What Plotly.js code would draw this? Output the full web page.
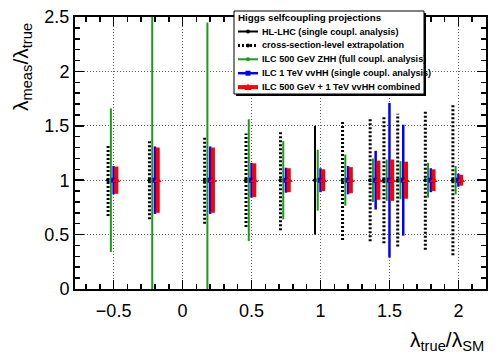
<!DOCTYPE html>
<html>
<head>
<meta charset="utf-8">
<script src="https://cdn.plot.ly/plotly-3.0.1.min.js"></script>
<style>
  html, body { margin: 0; padding: 0; background: #fff; }
  #chart { width: 498px; height: 362px; }
</style>
</head>
<body>
<div id="chart"></div>
<script>
// lambda_true / lambda_SM points
const lambdaTrue = [-0.5, -0.2, 0.2, 0.5, 0.75, 1.0, 1.2, 1.4, 1.5, 1.6, 1.8, 2.0];
// measured / true ratio (all centred at 1)
const measRatio = [1, 1, 1, 1, 1, 1, 1, 1, 1, 1, 1, 1];

// symmetric uncertainties per projection (null = not shown)
const hlLhcErr = [null, null, null, null, null, 0.5, null, null, null, null, null, null];
const xsecErr  = [0.33, 0.36, 0.40, 0.43, 0.46, null, 0.55, 0.56, 0.58, 0.61, 0.64, 0.69];
const zhhErr   = [0.66, 1.70, 1.45, 0.56, 0.36, 0.28, 0.235, 0.20, 0.19, 0.175, 0.16, 0.13];
const vvhhErr  = [0.13, 0.31, 0.31, 0.16, 0.115, 0.11, 0.13, 0.27, 0.71, 0.51, 0.11, 0.06];
const combErr  = [0.125, 0.30, 0.30, 0.155, 0.11, 0.10, 0.12, 0.18, 0.19, 0.17, 0.10, 0.05];

const legendTitle = 'Higgs selfcoupling projections';
const seriesNames = [
  'HL-LHC (single coupl. analysis)',
  'cross-section-level extrapolation',
  'ILC 500 GeV ZHH (full coupl. analysis)',
  'ILC 1 TeV vvHH (single coupl. analysis)',
  'ILC 500 GeV + 1 TeV vvHH combined'
];

const FONT = 'Liberation Sans, Arial, Helvetica, sans-serif';

// plot area in pixels (used for the hand drawn ROOT-style legend)
const M = { l: 75, r: 12, t: 17, b: 73 };
const W = 498, H = 362;
const pw = W - M.l - M.r, ph = H - M.t - M.b;
const px = p => (p - M.l) / pw;
const py = p => (H - M.b - p) / ph;

const styles = [
  { errs: hlLhcErr, off: -0.04, line: { color: '#000', width: 2 }, marker: { color: '#000', size: 4, symbol: 'circle' } },
  { errs: xsecErr, off: -0.04, line: { color: '#000', width: 3, dash: '2px,2px' }, marker: { color: '#000', size: 4, symbol: 'circle' } },
  { errs: zhhErr, off: -0.02, line: { color: '#1a9c1a', width: 2 }, marker: { color: '#1a9c1a', size: 4, symbol: 'circle' } },
  { errs: vvhhErr, off: 0, line: { color: '#0000ff', width: 2.5 }, marker: { color: '#0000ff', size: 5, symbol: 'square' } },
  { errs: combErr, off: 0.02, line: { color: '#ff0000', width: 4 }, marker: { color: '#ff0000', size: 7, symbol: 'triangle-up' } }
];

// Build vertical error bar segments for one series
function barTrace(s) {
  const x = [], y = [];
  lambdaTrue.forEach((l, i) => {
    if (s.errs[i] == null) return;
    x.push(l + s.off, l + s.off, null);
    y.push(measRatio[i] - s.errs[i], measRatio[i] + s.errs[i], null);
  });
  return { x, y, mode: 'lines', line: s.line, showlegend: false, hoverinfo: 'skip' };
}

// Central markers
function markerTrace(s) {
  const x = [], y = [];
  lambdaTrue.forEach((l, i) => {
    if (s.errs[i] == null) return;
    x.push(l + s.off);
    y.push(measRatio[i]);
  });
  return { x, y, mode: 'markers', marker: s.marker, showlegend: false, hoverinfo: 'skip' };
}

const data = [];
styles.forEach(s => data.push(barTrace(s)));
styles.forEach(s => data.push(markerTrace(s)));

// Legend box (with ROOT shadow), symbols and texts
const box = { x0: 234, x1: 424, y0: 11, y1: 94 };
const shapes = [
  { type: 'rect', xref: 'paper', yref: 'paper', layer: 'above',
    x0: px(box.x0 + 2), x1: px(box.x1 + 2), y0: py(box.y0 + 2), y1: py(box.y1 + 2),
    fillcolor: '#000', line: { width: 0 } },
  { type: 'rect', xref: 'paper', yref: 'paper', layer: 'above',
    x0: px(box.x0), x1: px(box.x1), y0: py(box.y0), y1: py(box.y1),
    fillcolor: '#fff', line: { color: '#000', width: 1 } }
];
const annotations = [
  { text: '<b>' + legendTitle + '</b>', xref: 'paper', yref: 'paper',
    x: px(236), y: py(17.5), xanchor: 'left', yanchor: 'middle', showarrow: false,
    font: { family: FONT, size: 9.8, color: '#000' } }
];
styles.forEach((s, k) => {
  const yc = 31.5 + 13.9 * k;
  const ln = Object.assign({}, s.line);
  shapes.push({ type: 'line', xref: 'paper', yref: 'paper', layer: 'above',
    x0: px(238), x1: px(258), y0: py(yc), y1: py(yc), line: ln });
  const r = s.marker.size / 2;
  const xc = 248;
  if (s.marker.symbol === 'square') {
    shapes.push({ type: 'rect', xref: 'paper', yref: 'paper', layer: 'above',
      x0: px(xc - r), x1: px(xc + r), y0: py(yc - r), y1: py(yc + r),
      fillcolor: s.marker.color, line: { width: 0 } });
  } else if (s.marker.symbol === 'triangle-up') {
    shapes.push({ type: 'path', xref: 'paper', yref: 'paper', layer: 'above',
      path: `M ${px(xc - r)} ${py(yc + r * 0.8)} L ${px(xc + r)} ${py(yc + r * 0.8)} L ${px(xc)} ${py(yc - r)} Z`,
      fillcolor: s.marker.color, line: { width: 0 } });
  } else {
    shapes.push({ type: 'circle', xref: 'paper', yref: 'paper', layer: 'above',
      x0: px(xc - r), x1: px(xc + r), y0: py(yc - r), y1: py(yc + r),
      fillcolor: s.marker.color, line: { width: 0 } });
  }
  annotations.push({ text: '<b>' + seriesNames[k] + '</b>', xref: 'paper', yref: 'paper',
    x: px(260), y: py(yc), xanchor: 'left', yanchor: 'middle', showarrow: false,
    font: { family: FONT, size: 9.1, color: '#000' } });
});

annotations.push(
  {
    text: 'λ<sub>true</sub>/λ<sub>SM</sub>',
    xref: 'paper', yref: 'paper',
    x: 1, y: -0.19,
    xanchor: 'right', yanchor: 'middle',
    showarrow: false,
    font: { family: FONT, size: 21, color: '#000' }
  },
  {
    text: 'λ<sub>meas</sub>/λ<sub>true</sub>',
    xref: 'paper', yref: 'paper',
    x: -0.129, y: 0.816,
    xanchor: 'center', yanchor: 'middle',
    textangle: -90,
    showarrow: false,
    font: { family: FONT, size: 21, color: '#000' }
  }
);

const axisBase = {
  showline: true,
  linecolor: '#000',
  linewidth: 2,
  mirror: 'allticks',
  ticks: 'inside',
  ticklen: 9,
  tickwidth: 1.5,
  tickcolor: '#000',
  showgrid: true,
  gridcolor: '#666',
  gridwidth: 1,
  griddash: '1px,2px',
  zeroline: false,
  tickfont: { family: FONT, size: 18, color: '#000' },
  minor: { ticks: 'inside', ticklen: 5, tickwidth: 1.5, tickcolor: '#000', dtick: 0.1, tick0: 0, showgrid: false }
};

const layout = {
  width: W,
  height: H,
  margin: M,
  paper_bgcolor: '#fff',
  plot_bgcolor: '#fff',
  font: { family: FONT, color: '#000' },
  showlegend: false,
  xaxis: Object.assign({}, axisBase, {
    range: [-0.78, 2.2],
    tick0: 0,
    dtick: 0.5,
    ticklabelstandoff: 4
  }),
  yaxis: Object.assign({}, axisBase, {
    range: [0, 2.5],
    tick0: 0,
    dtick: 0.5
  }),
  shapes,
  annotations
};

Plotly.newPlot('chart', data, layout, { displayModeBar: false, staticPlot: true });
</script>
</body>
</html>
